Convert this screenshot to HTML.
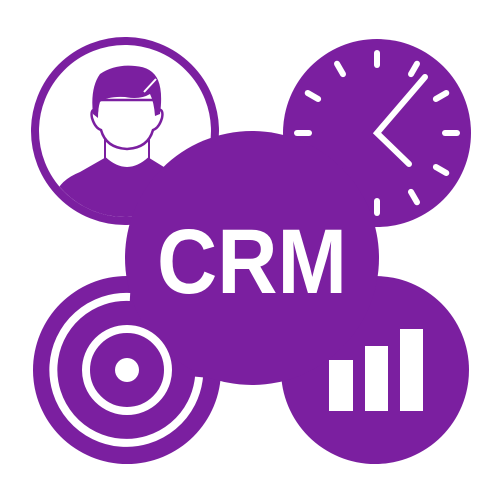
<!DOCTYPE html>
<html><head><meta charset="utf-8"><style>html,body{margin:0;padding:0;background:#fff}svg{display:block}</style></head>
<body>
<svg width="500" height="500" viewBox="0 0 500 500" xmlns="http://www.w3.org/2000/svg">
<defs><clipPath id="c1"><circle cx="125" cy="131" r="86"/></clipPath></defs>
<g fill="#7b1fa0">
<circle cx="125" cy="131" r="90" fill="none" stroke="#7b1fa0" stroke-width="8"/>
<g clip-path="url(#c1)">
 <path d="M55 195 Q60 180 80 172 L108 156 L146 156 L172 172 Q192 182 200 200 L200 240 L50 240 Z"/>
 <path d="M105 140 L105 158 Q127 178 149 158 L149 140 Z" fill="#fff" stroke="#7b1fa0" stroke-width="2"/>
</g>
<path d="M97 110 Q90 108 92 118 Q95 128 101 130 Q106 148 127 149 Q148 148 153 130 Q159 128 162 118 Q164 108 157 110 L157 100 L97 100 Z" fill="#fff" stroke="#7b1fa0" stroke-width="2.5"/>
<path d="M93 114 Q90 88 100 74 Q115 64 135 66 Q152 67 158 80 Q163 92 160 114 L155 116 Q154 102 150 94 Q140 100 125 97 Q108 96 100 102 Q98 108 98 118 Z"/>
<path d="M144 92 L156 79" stroke="#fff" stroke-width="2"/>
<circle cx="377" cy="133" r="94"/>
<circle cx="127" cy="370" r="94"/>
<circle cx="375" cy="370" r="94"/>
<circle cx="252" cy="258" r="127"/>
</g>
<g stroke="#fff" stroke-width="6" stroke-linecap="round" fill="none" transform="translate(377,133)">
 <g id="t"><line x1="0" y1="-68" x2="0" y2="-80"/></g>
 <use href="#t" transform="rotate(30)"/><use href="#t" transform="rotate(60)"/><use href="#t" transform="rotate(90)"/>
 <use href="#t" transform="rotate(120)"/><use href="#t" transform="rotate(150)"/><use href="#t" transform="rotate(180)"/>
 <use href="#t" transform="rotate(270)"/><use href="#t" transform="rotate(300)"/><use href="#t" transform="rotate(330)"/>
 <polyline points="48,-56 0,0 32,31" stroke-width="6"/>
</g>
<g fill="none" stroke="#fff" stroke-width="8">
 <path d="M130 297 A73 73 0 1 0 199 377"/>
 <circle cx="127" cy="370" r="41"/>
</g>
<circle cx="127" cy="370" r="12" fill="#fff"/>
<g fill="#fff">
 <rect x="329" y="360" width="24" height="51"/>
 <rect x="365" y="346" width="23" height="65"/>
 <rect x="400" y="329" width="23" height="82"/>
</g>
<text x="157" y="293" textLength="190" lengthAdjust="spacingAndGlyphs" font-family="Liberation Sans, sans-serif" font-weight="bold" font-size="92" fill="#fff">CRM</text>
</svg>
</body></html>
